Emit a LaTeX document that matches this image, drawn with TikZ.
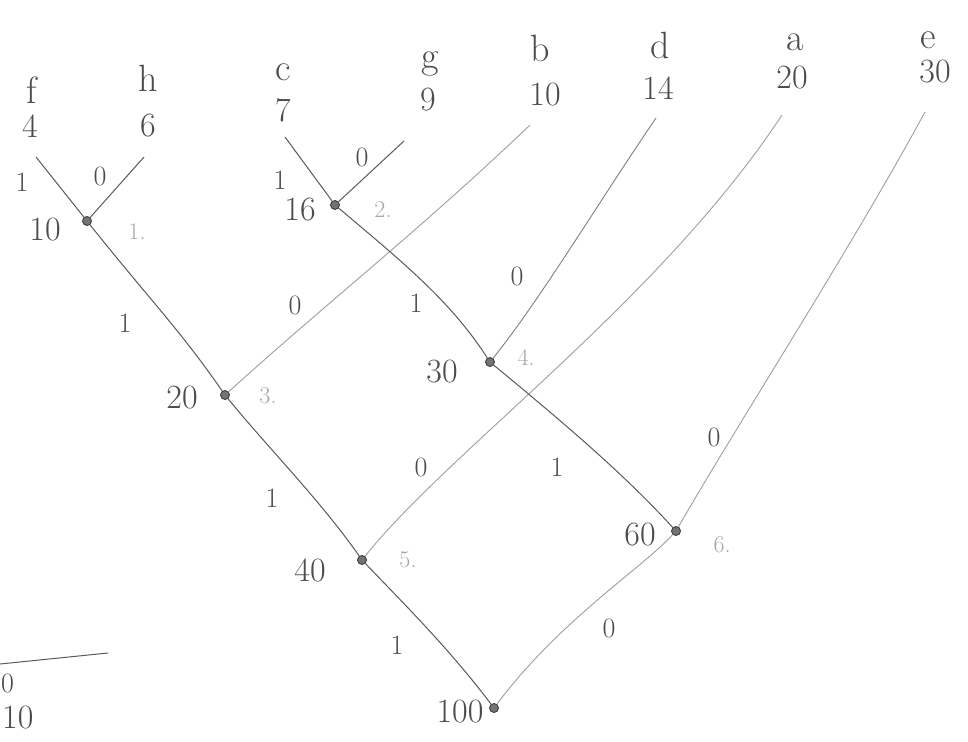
\documentclass[tikz,border=0pt]{standalone}
\begin{document}
\begin{tikzpicture}[x=1pt,y=-1pt,
  inode/.style={circle,draw=black!75,fill=black!55,inner sep=0pt,minimum size=9pt,line width=0.9pt},
  edge/.style={draw=black!65,line width=1pt},
  midedge/.style={draw=black!50,line width=0.9pt},
  lightedge/.style={draw=black!38,line width=0.9pt},
  sym/.style={font=\fontsize{38}{38}\selectfont,text=black!70,inner sep=0pt},
  wt/.style={font=\fontsize{34}{34}\selectfont,text=black!70,inner sep=0pt},
  bit/.style={font=\fontsize{28}{28}\selectfont,text=black!70,inner sep=0pt},
  stepno/.style={font=\fontsize{24}{24}\selectfont,text=black!35,inner sep=0pt}]
\useasboundingbox (0,0) rectangle (968,741);
\clip (0,0) rectangle (968,741);

% leaves
\node[sym] (lf) at (32,90) {f};   \node[wt] (wf) at (30,126) {4};
\node[sym] (lh) at (148,78) {h};  \node[wt] (wh) at (148,126) {6};
\node[sym] (lc) at (283,72) {c};  \node[wt] (wc) at (283,110) {7};
\node[sym] (lg) at (430,64) {g};  \node[wt] (wg) at (428,100) {9};
\node[sym] (lb) at (540,48) {b};  \node[wt] (wb) at (545,95) {10};
\node[sym] (ld) at (660,45) {d};  \node[wt] (wd) at (658,88) {14};
\node[sym] (la) at (795,42) {a};  \node[wt] (wa) at (792,78) {20};
\node[sym] (le) at (928,40) {e};  \node[wt] (we) at (935,72) {30};

\coordinate (tf) at (36,157);
\coordinate (th) at (144,157);
\coordinate (tc) at (285,137);
\coordinate (tg) at (404,141);
\coordinate (tb) at (530,125);
\coordinate (td) at (656,118);
\coordinate (ta) at (782,115);
\coordinate (te) at (925,112);

% inner nodes
\node[inode] (n1) at (87,221) {};
\node[inode] (n2) at (335,205) {};
\node[inode] (n3) at (225,395) {};
\node[inode] (n4) at (490,362) {};
\node[inode] (n5) at (362,560) {};
\node[inode] (n6) at (676,531) {};
\node[inode] (n7) at (494,708) {};

% weights of inner nodes
\node[wt] (v1) at (45,230) {10};
\node[wt] (v2) at (300,210) {16};
\node[wt] (v3) at (182,398) {20};
\node[wt] (v4) at (442,372) {30};
\node[wt] (v5) at (310,570) {40};
\node[wt] (v6) at (640,535) {60};
\node[wt] (v7) at (460,712) {100};

% step numbers
\node[stepno] (s1) at (137,232) {1.};
\node[stepno] (s2) at (383,210) {2.};
\node[stepno] (s3) at (268,396) {3.};
\node[stepno] (s4) at (526,357) {4.};
\node[stepno] (s5) at (408,560) {5.};
\node[stepno] (s6) at (722,545) {6.};

% edges
\draw[edge] (tf) -- (n1);
\draw[edge] (th) -- (n1);
\draw[edge] (tc) -- (n2);
\draw[edge] (tg) -- (n2);
\draw[edge] (n1) .. controls (150,300) and (180,330) .. (n3);
\draw[lightedge] (tb) .. controls (420,230) and (330,300) .. (n3);
\draw[edge] (n2) .. controls (400,260) and (450,300) .. (n4);
\draw[midedge] (td) .. controls (600,200) and (540,300) .. (n4);
\draw[edge] (n3) .. controls (270,450) and (320,500) .. (n5);
\draw[lightedge] (ta) .. controls (660,300) and (450,450) .. (n5);
\draw[edge] (n4) .. controls (560,420) and (620,470) .. (n6);
\draw[lightedge] (te) .. controls (850,250) and (740,420) .. (n6);
\draw[edge] (n5) .. controls (410,610) and (450,650) .. (n7);
\draw[lightedge] (n6) .. controls (640,570) and (560,620) .. (n7);

% edge labels
\node[bit] (b1) at (22,182) {1};
\node[bit] (b2) at (100,176) {0};
\node[bit] (b3) at (280,180) {1};
\node[bit] (b4) at (362,157) {0};
\node[bit] (b5) at (125,323) {1};
\node[bit] (b6) at (295,305) {0};
\node[bit] (b7) at (416,303) {1};
\node[bit] (b8) at (517,276) {0};
\node[bit] (b9) at (272,498) {1};
\node[bit] (b10) at (421,467) {0};
\node[bit] (b11) at (557,467) {1};
\node[bit] (b12) at (714,437) {0};
\node[bit] (b13) at (397,645) {1};
\node[bit] (b14) at (609,628) {0};

% cut-off remains at the lower left
\coordinate (q1) at (0,664);
\coordinate (q2) at (108,653);
\draw[edge] (q1) -- (q2);
\node[bit,anchor=west] (r1) at (1,683) {0};
\node[wt,anchor=west] (r2) at (2,718) {10};
\end{tikzpicture}
\end{document}
